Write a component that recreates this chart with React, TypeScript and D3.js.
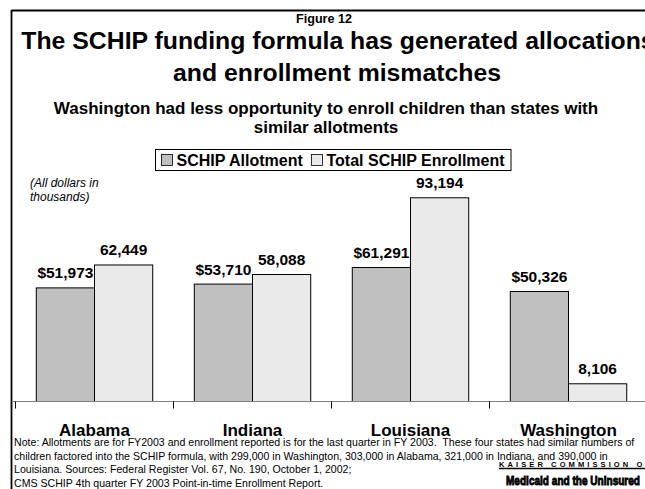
import React from "react";
import * as d3 from "d3";

const categories = ["Alabama", "Indiana", "Louisiana", "Washington"];
const seriesNames = ["SCHIP Allotment", "Total SCHIP Enrollment"];
const allotment = [51973, 53710, 61291, 50326];
const enrollment = [62449, 58088, 93194, 8106];
const allotmentLabels = ["$51,973", "$53,710", "$61,291", "$50,326"];
const enrollmentLabels = ["62,449", "58,088", "93,194", "8,106"];
const noteLines = [
  "Note: Allotments are for FY2003 and enrollment reported is for the last quarter in FY 2003.  These four states had similar numbers of",
  "children factored into the SCHIP formula, with 299,000 in Washington, 303,000 in Alabama, 321,000 in Indiana, and 390,000 in",
  "Louisiana. Sources: Federal Register Vol. 67, No. 190, October 1, 2002;",
  "CMS SCHIP 4th quarter FY 2003 Point-in-time Enrollment Report.",
];

const W = 645;
const H = 489;
const FONT = "Arial, 'Liberation Sans', Helvetica, sans-serif";
const colors = ["#C0C0C0", "#EAEAEA"];

export default function App() {
  const x0 = d3.scaleBand<string>().domain(categories).range([15.5, 647.5]).padding(0);
  const x1 = d3
    .scaleBand<string>()
    .domain(seriesNames)
    .range([0, x0.bandwidth()])
    .paddingInner(0)
    .paddingOuter(0.357);
  const y = d3.scaleLinear().domain([0, 100000]).range([401.5, 182.9]);
  const values = [allotment, enrollment];
  const labels = [allotmentLabels, enrollmentLabels];

  return (
    <svg
      width={W}
      height={H}
      style={{ position: "absolute", left: 0, top: 0, background: "#fff" }}
      fontFamily={FONT}
    >
      <rect x={0} y={0} width={W} height={H} fill="#fff" />
      {/* frame */}
      <line x1={11.5} x2={W} y1={10.5} y2={10.5} stroke="#000" strokeWidth={1.8} />
      <line x1={11.5} x2={11.5} y1={10} y2={H} stroke="#000" strokeWidth={1.8} />

      {/* titles */}
      <text x={324} y={23} textAnchor="middle" fontWeight="bold" fontSize={12.6}>
        Figure 12
      </text>
      <text x={338} y={48.5} textAnchor="middle" fontWeight="bold" fontSize={24.8}>
        The SCHIP funding formula has generated allocations
      </text>
      <text x={337} y={80.5} textAnchor="middle" fontWeight="bold" fontSize={24.8}>
        and enrollment mismatches
      </text>
      <text x={326} y={113.5} textAnchor="middle" fontWeight="bold" fontSize={17}>
        Washington had less opportunity to enroll children than states with
      </text>
      <text x={326} y={133} textAnchor="middle" fontWeight="bold" fontSize={17}>
        similar allotments
      </text>

      {/* legend */}
      <rect x={155.5} y={149.5} width={355.5} height={21} fill="#fff" stroke="#000" strokeWidth={1} />
      {seriesNames.map((s, i) => {
        const lx = i === 0 ? 161.5 : 311.5;
        return (
          <g key={s}>
            <rect x={lx} y={154.5} width={11} height={11} fill={colors[i]} stroke="#000" strokeWidth={0.8} />
            <text x={lx + 15} y={166} fontWeight="bold" fontSize={16}>
              {s}
            </text>
          </g>
        );
      })}

      <text x={30} y={187} fontStyle="italic" fontSize={12}>
        (All dollars in
      </text>
      <text x={30} y={201} fontStyle="italic" fontSize={12}>
        thousands)
      </text>

      {/* bars */}
      {categories.map((c, ci) => (
        <g key={c} transform={`translate(${x0(c)},0)`}>
          {seriesNames.map((s, si) => {
            const v = values[si][ci];
            const bx = x1(s) as number;
            return (
              <g key={s}>
                <rect
                  x={bx}
                  y={y(v)}
                  width={x1.bandwidth()}
                  height={y(0) - y(v)}
                  fill={colors[si]}
                  stroke="#000"
                  strokeWidth={1}
                />
                <text
                  x={bx + x1.bandwidth() / 2}
                  y={y(v) - 9.5}
                  textAnchor="middle"
                  fontWeight="bold"
                  fontSize={15.5}
                >
                  {labels[si][ci]}
                </text>
              </g>
            );
          })}
        </g>
      ))}

      {/* axis */}
      <line x1={13} x2={W} y1={y(0)} y2={y(0)} stroke="#808080" strokeWidth={1} />
      {categories.map((c) => (
        <line key={c} x1={x0(c)} x2={x0(c)} y1={y(0)} y2={y(0) + 7} stroke="#000" strokeWidth={1} />
      ))}
      {categories.map((c) => (
        <text
          key={c}
          x={(x0(c) as number) + x0.bandwidth() / 2}
          y={436}
          textAnchor="middle"
          fontWeight="bold"
          fontSize={17}
        >
          {c}
        </text>
      ))}

      {/* notes */}
      {noteLines.map((t, i) => (
        <text key={i} x={14} y={446 + i * 13.6} fontSize={10.6} xmlSpace="preserve" style={{ whiteSpace: "pre" }}>
          {t}
        </text>
      ))}

      {/* Kaiser logo */}
      <text x={499} y={466.5} fontWeight="bold" fontSize={7.5} letterSpacing={3.1}>
        KAISER COMMISSION ON
      </text>
      <line x1={499} x2={W} y1={468.5} y2={468.5} stroke="#000" strokeWidth={1.3} />
      <text
        x={506}
        y={485}
        fontWeight={900}
        fontSize={13}
        textLength={134}
        lengthAdjust="spacingAndGlyphs"
        stroke="#000"
        strokeWidth={0.9}
      >
        Medicaid and the Uninsured
      </text>
    </svg>
  );
}
